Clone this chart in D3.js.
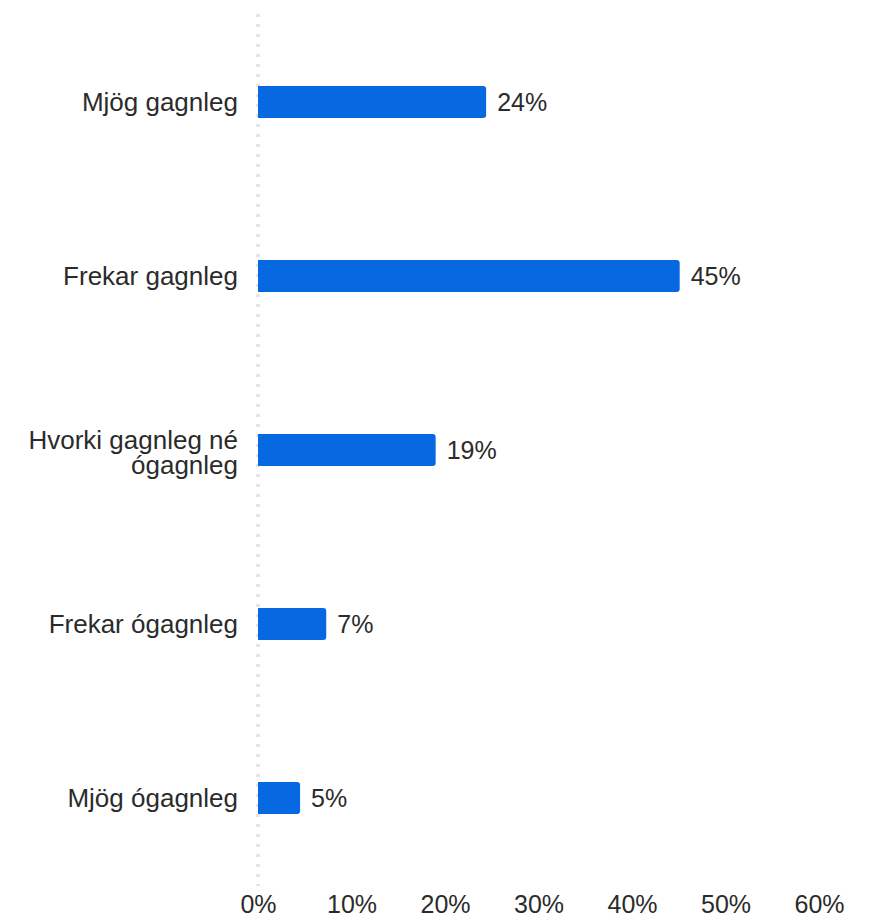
<!DOCTYPE html>
<html>
<head>
<meta charset="utf-8">
<script src="https://cdn.jsdelivr.net/npm/d3@7"></script>
<style>
  html, body { margin: 0; padding: 0; background: #fff; }
  svg { display: block; }
  text { font-family: "Liberation Sans", Arial, sans-serif; fill: #2b2b2b; }
</style>
</head>
<body>
<svg id="chart" width="871" height="918"></svg>
<script>
const categories = [
  ["Mjög gagnleg"],
  ["Frekar gagnleg"],
  ["Hvorki gagnleg né", "ógagnleg"],
  ["Frekar ógagnleg"],
  ["Mjög ógagnleg"]
];
const values = [24.4, 45.1, 19.0, 7.3, 4.5];
const valueLabels = ["24%", "45%", "19%", "7%", "5%"];
const tickValues = [0, 10, 20, 30, 40, 50, 60];
const tickLabels = ["0%", "10%", "20%", "30%", "40%", "50%", "60%"];

const svg = d3.select("#chart");
const fontSize = 25;
const catFontSize = 26;
const x = d3.scaleLinear().domain([0, 60]).range([258, 819]);
const y = d3.scaleBand().domain(d3.range(categories.length)).range([15, 885]).paddingInner(0.816).paddingOuter(0.408);

// dotted baseline
svg.append("line")
  .attr("x1", x(0)).attr("x2", x(0))
  .attr("y1", 14).attr("y2", 886)
  .attr("stroke", "#e2e2e2")
  .attr("stroke-width", 3.5)
  .attr("stroke-dasharray", "3,7");

// bars with rounded right end
const r = 3;
svg.append("g").selectAll("path").data(values).join("path")
  .attr("fill", "#0669e1")
  .attr("d", (d, i) => {
    const x0 = x(0), x1 = x(d), y0 = y(i), h = y.bandwidth();
    const rr = Math.min(r, (x1 - x0));
    return `M${x0},${y0}H${x1 - rr}Q${x1},${y0} ${x1},${y0 + rr}V${y0 + h - rr}Q${x1},${y0 + h} ${x1 - rr},${y0 + h}H${x0}Z`;
  });

// value labels
svg.append("g").selectAll("text").data(values).join("text")
  .attr("x", d => x(d) + 11)
  .attr("y", (d, i) => y(i) + y.bandwidth() / 2)
  .attr("dy", "0.35em")
  .attr("font-size", fontSize)
  .text((d, i) => valueLabels[i]);

// category labels
const lineH = 25;
const cat = svg.append("g").selectAll("text").data(categories).join("text")
  .attr("text-anchor", "end")
  .attr("font-size", catFontSize)
  .attr("y", (d, i) => {
    const cy = y(i) + y.bandwidth() / 2;
    return d.length > 1 ? cy - 1 : cy + fontSize * 0.35;
  });
cat.each(function(d) {
  d3.select(this).selectAll("tspan").data(d).join("tspan")
    .attr("x", 238)
    .attr("dy", (t, j) => j === 0 ? 0 : lineH)
    .text(t => t);
});

// x axis
const axis = d3.axisBottom(x).tickValues(tickValues).tickFormat((d, i) => tickLabels[i]).tickSize(0).tickPadding(0);
const ag = svg.append("g").call(axis);
ag.select(".domain").remove();
ag.selectAll("text")
  .attr("y", 913)
  .attr("dy", null)
  .attr("font-size", fontSize)
  .attr("font-family", "Liberation Sans, Arial, sans-serif")
  .style("fill", "#2b2b2b");
</script>
</body>
</html>
